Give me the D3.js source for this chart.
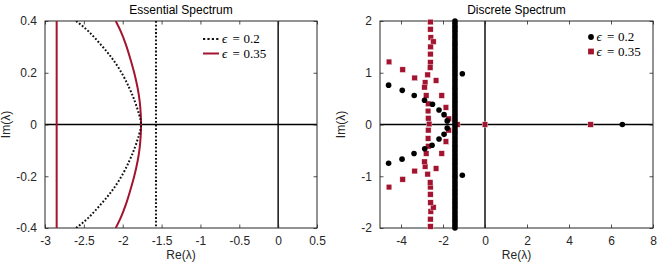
<!DOCTYPE html>
<html><head><meta charset="utf-8">
<script src="https://cdn.jsdelivr.net/npm/d3@7"></script>
<style>body{margin:0;background:#fff} svg{display:block}</style>
</head><body><svg id="c" width="664" height="269"></svg>
<script>
// ---------- data ----------
const essXTicks = [-3,-2.5,-2,-1.5,-1,-0.5,0,0.5];
const essYTicks = [-0.4,-0.2,0,0.2,0.4];
const discXTicks = [-4,-2,0,2,4,6,8];
const discYTicks = [-2,-1,0,1,2];

// Essential spectrum, eps = 0.2 (dotted black)
const ess02CurveIm = [-0.4,-0.36,-0.308,-0.257,-0.2,-0.141,-0.09,-0.04,0,0.04,0.09,0.141,0.2,0.257,0.308,0.36,0.4];
const ess02CurveRe = [-2.60,-2.44,-2.28,-2.14,-2.015,-1.915,-1.845,-1.79,-1.765,-1.79,-1.845,-1.915,-2.015,-2.14,-2.28,-2.44,-2.60];
const ess02LineRe = -1.572;
// Essential spectrum, eps = 0.35 (solid red)
const ess035CurveIm = [-0.4,-0.36,-0.308,-0.257,-0.2,-0.141,-0.09,-0.04,0,0.04,0.09,0.141,0.2,0.257,0.308,0.36,0.4];
const ess035CurveRe = [-2.09,-2.025,-1.958,-1.905,-1.852,-1.808,-1.782,-1.768,-1.764,-1.768,-1.782,-1.808,-1.852,-1.905,-1.958,-2.025,-2.09];
const ess035LineRe = -2.85;

// Discrete spectrum, eps = 0.2 (black dots)
const disc02Re = [-4.59,-3.94,-3.37,-2.88,-2.50,-2.19,-1.95,-1.80,-1.08,6.54,
                  -4.59,-3.95,-3.38,-2.87,-2.52,-2.19,-1.95,-1.80,-1.08];
const disc02Im = [0.76,0.66,0.56,0.47,0.39,0.28,0.19,0.07,0.98,0,
                  -0.75,-0.67,-0.56,-0.47,-0.40,-0.28,-0.19,-0.07,-0.98];
// dense column of eps = 0.2 eigenvalues
const disc02ColRe = -1.43;
const disc02ColIm = [-2,-1.95,-1.9,-1.85,-1.8,-1.75,-1.7,-1.65,-1.6,-1.55,-1.5,-1.45,-1.4,-1.35,-1.3,-1.25,-1.2,-1.15,-1.1,-1.05,
  -1,-0.95,-0.9,-0.85,-0.8,-0.75,-0.7,-0.65,-0.6,-0.55,-0.5,-0.45,-0.4,-0.35,-0.3,-0.25,-0.2,-0.15,-0.1,-0.05,
  0,0.05,0.1,0.15,0.2,0.25,0.3,0.35,0.4,0.45,0.5,0.55,0.6,0.65,0.7,0.75,0.8,0.85,0.9,0.95,
  1,1.05,1.1,1.15,1.2,1.25,1.3,1.35,1.4,1.45,1.5,1.55,1.6,1.65,1.7,1.75,1.8,1.85,1.9,1.95,2];

// Discrete spectrum, eps = 0.35 (red squares)
const disc035Re = [-2.60,-2.60,-2.58,-2.46,-2.59,-2.60,-2.60,-2.61,-2.73,-2.85,-2.88,-2.80,-2.70,-2.71,-2.70,-2.66,
                   -2.60,-2.60,-2.58,-2.46,-2.59,-2.60,-2.60,-2.61,-2.73,-2.85,-2.88,-2.80,-2.70,-2.71,-2.70,
                   -4.57,-3.92,-3.35,-2.33,-2.06,-1.86,-1.73,
                   -4.57,-3.92,-3.35,-2.33,-2.06,-1.86,-1.73,
                   -1.32,0,5.03];
const disc035Im = [1.98,1.84,1.68,1.60,1.50,1.36,1.20,1.10,0.96,0.81,0.72,0.56,0.40,0.26,0.12,0.01,
                   -1.97,-1.83,-1.68,-1.60,-1.51,-1.35,-1.21,-1.12,-0.96,-0.81,-0.72,-0.56,-0.42,-0.27,-0.11,
                   1.21,1.06,0.90,0.85,0.56,0.33,0.11,
                   -1.21,-1.06,-0.90,-0.85,-0.56,-0.33,-0.11,
                   0,0,0];

// ---------- drawing ----------
const RED = "#A2142F";
const svg = d3.select("#c");
const SANS = "'Liberation Sans', Arial, Helvetica, sans-serif";
const SERIF = "'Liberation Serif', 'Times New Roman', serif";
const fmt = d => String(d);

function panel(opt){
  const g = svg.append("g");
  const x = d3.scaleLinear().domain(opt.xd).range([opt.x0, opt.x1]);
  const y = d3.scaleLinear().domain(opt.yd).range([opt.y1, opt.y0]);
  const clipId = "clip" + opt.id;
  svg.append("clipPath").attr("id", clipId).append("rect")
    .attr("x", opt.x0).attr("y", opt.y0).attr("width", opt.x1-opt.x0).attr("height", opt.y1-opt.y0);
  // zero lines
  g.append("line").attr("x1", x(0)).attr("x2", x(0)).attr("y1", opt.y0).attr("y2", opt.y1)
    .attr("stroke","#000").attr("stroke-width",1.4);
  g.append("line").attr("x1", opt.x0).attr("x2", opt.x1).attr("y1", y(0)).attr("y2", y(0))
    .attr("stroke","#000").attr("stroke-width",1.4);
  // axes with inward ticks
  const tl = 3.5;
  const ax = (gen, tx, ty) => {
    const a = g.append("g").attr("transform", `translate(${tx},${ty})`).call(gen);
    a.select(".domain").remove();
    a.selectAll("line").attr("stroke","#262626").attr("stroke-width",0.8);
    a.selectAll("text").attr("font-family", SANS).attr("font-size", 12).attr("fill","#262626");
    return a;
  };
  ax(d3.axisBottom(x).tickValues(opt.xt).tickSize(-tl).tickPadding(8).tickFormat(fmt), 0, opt.y1);
  ax(d3.axisTop(x).tickValues(opt.xt).tickSize(-tl).tickFormat(""), 0, opt.y0);
  ax(d3.axisLeft(y).tickValues(opt.yt).tickSize(-tl).tickPadding(8).tickFormat(fmt), opt.x0, 0);
  ax(d3.axisRight(y).tickValues(opt.yt).tickSize(-tl).tickFormat(""), opt.x1, 0);
  // frame
  g.append("rect").attr("x", opt.x0).attr("y", opt.y0).attr("width", opt.x1-opt.x0).attr("height", opt.y1-opt.y0)
    .attr("fill","none").attr("stroke","#262626").attr("stroke-width",1);
  // title
  svg.append("text").attr("x",(opt.x0+opt.x1)/2).attr("y",14).attr("text-anchor","middle")
    .attr("font-family",SANS).attr("font-size",12).attr("fill","#000").text(opt.title);
  // axis labels
  svg.append("text").attr("x",(opt.x0+opt.x1)/2).attr("y",259).attr("text-anchor","middle")
    .attr("font-family",SANS).attr("font-size",12).attr("fill","#262626").text("Re(λ)");
  svg.append("text").attr("transform",`translate(${opt.x0-35},${(opt.y0+opt.y1)/2}) rotate(-90)`)
    .attr("text-anchor","middle").attr("font-family",SANS).attr("font-size",12).attr("fill","#262626").text("Im(λ)");
  return {g, x, y, clipId};
}

function legendText(x, y, val){
  const t = svg.append("text").attr("y", y).attr("font-family", SERIF).attr("font-size", 13).attr("fill","#000");
  t.append("tspan").attr("x", x).attr("font-style","italic").text("ϵ");
  t.append("tspan").attr("x", x+10.5).text("=");
  t.append("tspan").attr("x", x+21.5).text(val);
}

// ---- left: Essential Spectrum ----
const L = panel({id:"L", x0:45, x1:317, y0:21, y1:228, xd:[-3,0.5], yd:[-0.4,0.4],
  xt:essXTicks, yt:essYTicks, title:"Essential Spectrum"});
const lc = L.g.append("g").attr("clip-path", `url(#${L.clipId})`);
const line = d3.line().x(d=>L.x(d[0])).y(d=>L.y(d[1])).curve(d3.curveNatural);
lc.append("path").datum(ess035CurveRe.map((r,i)=>[r, ess035CurveIm[i]]))
  .attr("d", line).attr("fill","none").attr("stroke",RED).attr("stroke-width",2);
lc.append("line").attr("x1",L.x(ess035LineRe)).attr("x2",L.x(ess035LineRe)).attr("y1",L.y(0.4)).attr("y2",L.y(-0.4))
  .attr("stroke",RED).attr("stroke-width",2);
lc.append("path").datum(ess02CurveRe.map((r,i)=>[r, ess02CurveIm[i]]))
  .attr("d", line).attr("fill","none").attr("stroke","#111").attr("stroke-width",2).attr("stroke-dasharray","1.8,1.9");
lc.append("line").attr("x1",L.x(ess02LineRe)).attr("x2",L.x(ess02LineRe)).attr("y1",L.y(0.4)).attr("y2",L.y(-0.4))
  .attr("stroke","#111").attr("stroke-width",2).attr("stroke-dasharray","1.8,1.9");
// legend left
svg.append("line").attr("x1",203).attr("x2",219).attr("y1",39).attr("y2",39)
  .attr("stroke","#111").attr("stroke-width",2).attr("stroke-dasharray","2.2,2.2");
svg.append("line").attr("x1",203).attr("x2",219).attr("y1",53.5).attr("y2",53.5)
  .attr("stroke",RED).attr("stroke-width",2);
legendText(222, 43, "0.2");
legendText(222, 57.5, "0.35");

// ---- right: Discrete Spectrum ----
const R = panel({id:"R", x0:380, x1:653, y0:21, y1:228, xd:[-5,8], yd:[-2,2],
  xt:discXTicks, yt:discYTicks, title:"Discrete Spectrum"});
const sq = 5.6;
R.g.append("g").selectAll("rect").data(disc035Re.map((r,i)=>[r, disc035Im[i]])).join("rect")
  .attr("x", d=>R.x(d[0])-sq/2).attr("y", d=>R.y(d[1])-sq/2).attr("width",sq).attr("height",sq)
  .attr("fill",RED).attr("stroke","#fff").attr("stroke-width",0.4);
R.g.append("g").selectAll("circle").data(disc02ColIm).join("circle")
  .attr("cx", R.x(disc02ColRe)).attr("cy", d=>R.y(d)).attr("r",2.8).attr("fill","#000");
R.g.append("g").selectAll("circle").data(disc02Re.map((r,i)=>[r, disc02Im[i]])).join("circle")
  .attr("cx", d=>R.x(d[0])).attr("cy", d=>R.y(d[1])).attr("r",2.8).attr("fill","#000");
// legend right
svg.append("circle").attr("cx",591).attr("cy",37).attr("r",2.9).attr("fill","#000");
svg.append("rect").attr("x",591-2.9).attr("y",51.5-2.9).attr("width",5.8).attr("height",5.8).attr("fill",RED);
legendText(596.5, 41, "0.2");
legendText(596.5, 55.5, "0.35");
</script></body></html>
